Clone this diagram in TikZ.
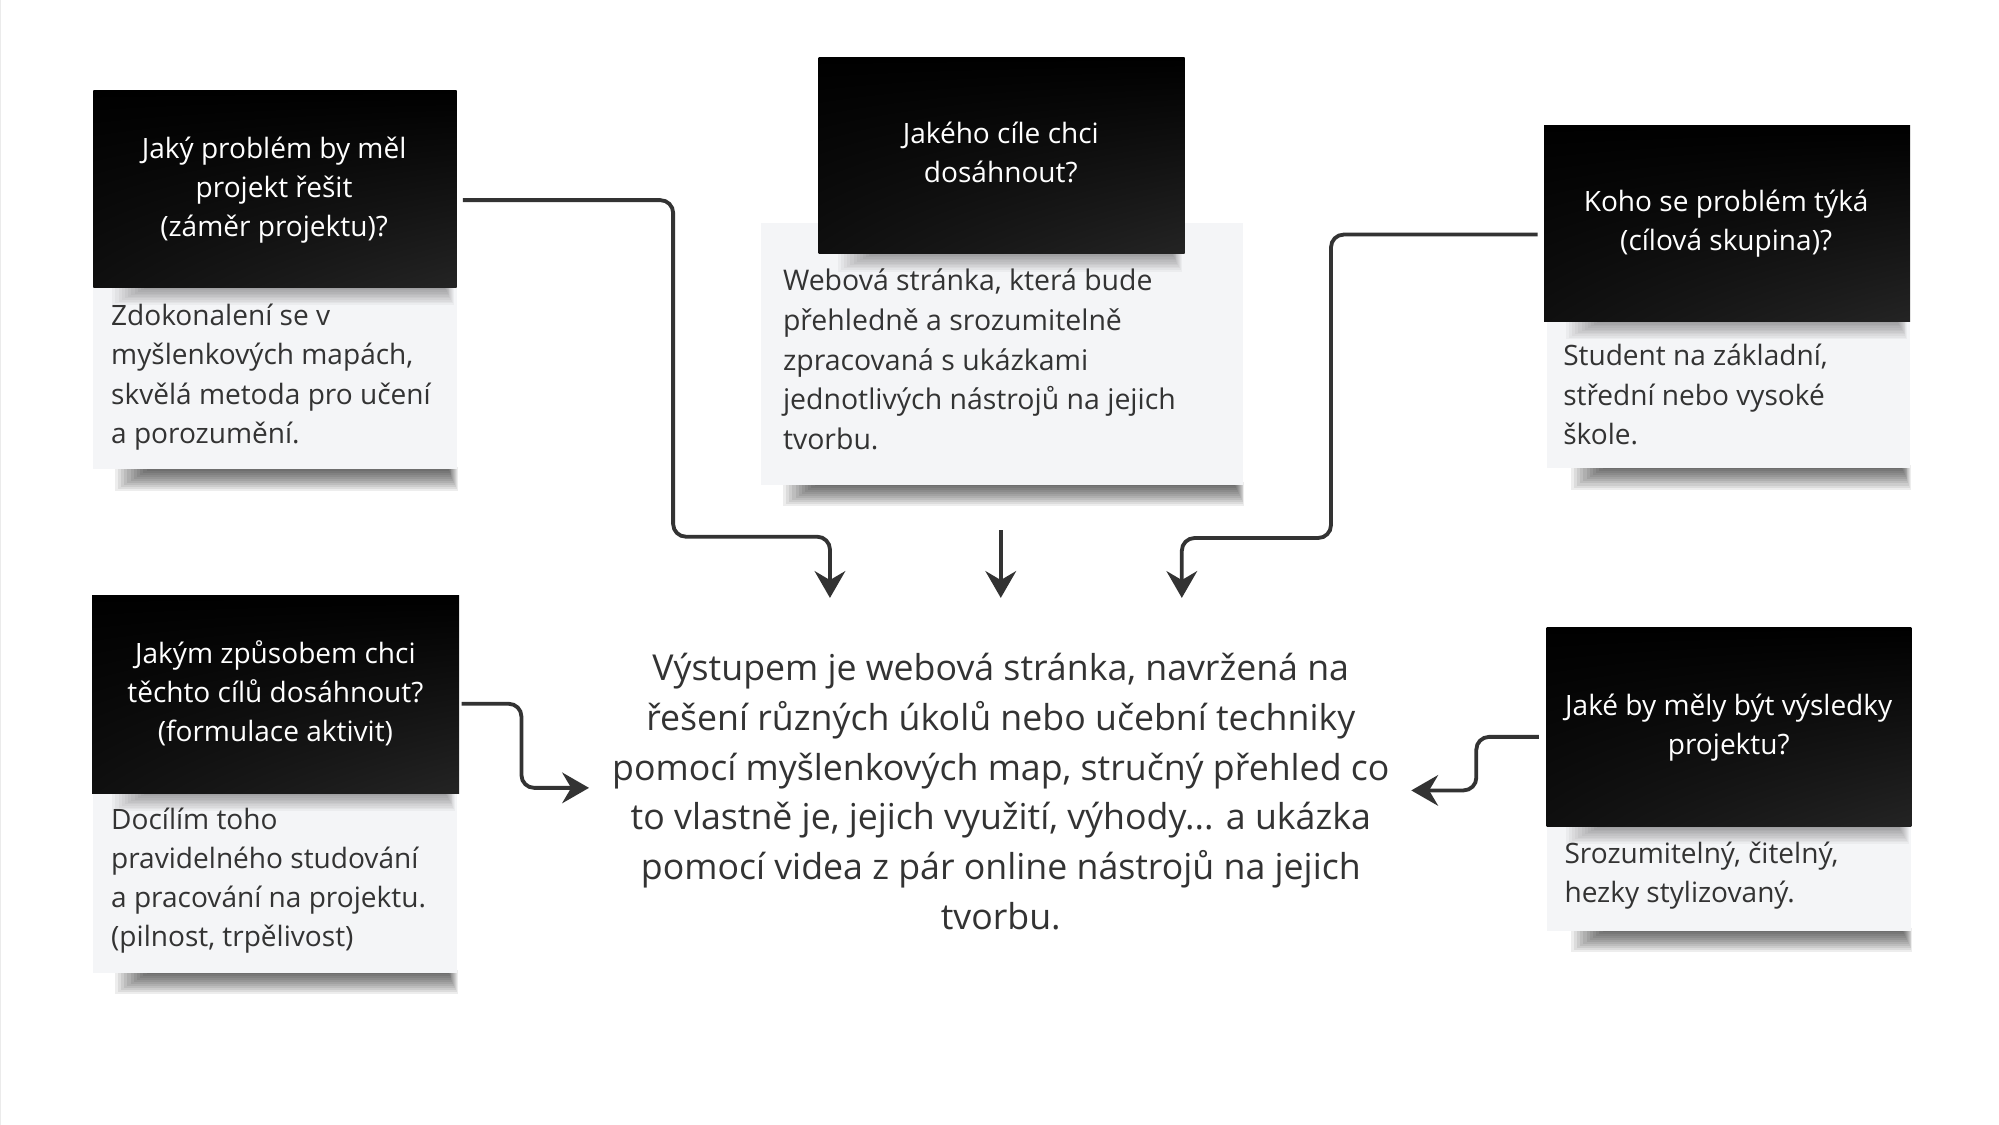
\documentclass[tikz,border=0pt]{standalone}
\usepackage{fontspec}
\setmainfont{Open Sans}
\usetikzlibrary{arrows.meta,shadings}
\definecolor{ink}{HTML}{333333}
\definecolor{paper}{HTML}{F4F5F7}
\newcommand\bodyfnt{\fontsize{22}{30.7}\selectfont}
\newcommand\bigbodyfnt{\fontsize{22.3}{31.2}\selectfont}
\newcommand\midfnt{\fontsize{28}{39}\selectfont}
% soft shadow band: x1, x2, top y, height, layer opacity
\newcommand\shadeband[5]{%
  \foreach \k in {0,...,11}{\fill[black, opacity=#5] (#1+2.5*\k, #3) rectangle (#2-0.7*\k, #3+#4-#4*\k/12);}}
\begin{document}
\begin{tikzpicture}[x=1pt,y=-1pt,
  darkbox/.style={draw=none, inner sep=0, anchor=north west,
    upper left=black, upper right=black, lower left=black!94!white, lower right=black!86!white},
  lightbox/.style={fill=paper, draw=none, inner sep=0, anchor=north west},
  headtxt/.style={text=white, inner sep=0, anchor=base, font=\bodyfnt},
  bodytxt/.style={text=ink, inner sep=0, anchor=base west, font=\bodyfnt},
  link/.style={draw=ink, line width=3, rounded corners=10, -{Stealth[length=21, width=24, inset=7]}},
]
\useasboundingbox (0,0) rectangle (1568,882.4);
\fill[white] (0,0) rectangle (1568,882.4);
\draw[black!8, line width=1] (0.5,0) -- (0.5,882.4);

% card 1
\shadeband{90}{359}{366}{19}{0.07}
\node[lightbox, minimum width=285, minimum height=143] (l1) at (73,225) {};
\shadeband{88}{356}{224}{15}{0.035}
\node[darkbox, minimum width=285, minimum height=154] (h1) at (73,71) {};
\node[headtxt] (t1) at (215,124.5) {\parbox[t]{280pt}{\centering Jaký problém by měl\\ projekt řešit\\ (záměr projektu)?}};
\node[bodytxt] (d1) at (87,255.5) {\parbox[t]{270pt}{\raggedright Zdokonalení se v\\ myšlenkových mapách,\\ skvělá metoda pro učení\\ a porozumění.}};

% card 2
\shadeband{614}{976}{378}{19}{0.07}
\node[lightbox, minimum width=378, minimum height=205] (l2) at (597,175) {};
\shadeband{657}{927}{198}{15}{0.035}
\node[darkbox, minimum width=287, minimum height=154] (h2) at (642,45) {};
\node[headtxt] (t2) at (785,112.5) {\parbox[t]{280pt}{\centering Jakého cíle chci\\ dosáhnout?}};
\node[bodytxt, font=\bigbodyfnt] (d2) at (614,228) {\parbox[t]{350pt}{\raggedright Webová stránka, která bude\\ přehledně a srozumitelně\\ zpracovaná s ukázkami\\ jednotlivých nástrojů na jejich\\ tvorbu.}};

% card 3
\shadeband{1232}{1499}{365}{19}{0.07}
\node[lightbox, minimum width=285, minimum height=115] (l3) at (1213,252) {};
\shadeband{1228}{1496}{251}{15}{0.035}
\node[darkbox, minimum width=287, minimum height=154] (h3) at (1211,98) {};
\node[headtxt] (t3) at (1354,166) {\parbox[t]{280pt}{\centering Koho se problém týká\\ (cílová skupina)?}};
\node[bodytxt] (d3) at (1226,287) {\parbox[t]{270pt}{\raggedright Student na základní,\\ střední nebo vysoké\\ škole.}};

% card 4
\shadeband{90}{359}{761}{19}{0.07}
\node[lightbox, minimum width=285, minimum height=141] (l4) at (73,622) {};
\shadeband{88}{357}{621}{15}{0.035}
\node[darkbox, minimum width=288, minimum height=155] (h4) at (72,467) {};
\node[headtxt] (t4) at (216,520.5) {\parbox[t]{285pt}{\centering Jakým způsobem chci\\ těchto cílů dosáhnout?\\ (formulace aktivit)}};
\node[bodytxt] (d4) at (87,650.5) {\parbox[t]{270pt}{\raggedright Docílím toho\\ pravidelného studování\\ a pracování na projektu.\\ (pilnost, trpělivost)}};

% card 5
\shadeband{1232}{1500}{728}{19}{0.07}
\node[lightbox, minimum width=286, minimum height=82] (l5) at (1213,648) {};
\shadeband{1228}{1497}{647}{15}{0.035}
\node[darkbox, minimum width=286, minimum height=156] (h5) at (1213,492) {};
\node[headtxt] (t5) at (1356,561.5) {\parbox[t]{285pt}{\centering Jaké by měly být výsledky\\ projektu?}};
\node[bodytxt] (d5) at (1227,677) {\parbox[t]{270pt}{\raggedright Srozumitelný, čitelný,\\ hezky stylizovaný.}};

% center text
\node[text=ink, inner sep=0, anchor=base, font=\midfnt] (out) at (785,534) {\parbox[t]{700pt}{\centering Výstupem je webová stránka, navržená na\\ řešení různých úkolů nebo učební techniky\\ pomocí myšlenkových map, stručný přehled co\\ to vlastně je, jejich využití, výhody... a ukázka\\ pomocí videa z pár online nástrojů na jejich\\ tvorbu.}};

% connector ends
\coordinate (e1) at (651,469);
\coordinate (e2) at (785,469);
\coordinate (e3) at (927,469);
\coordinate (e4) at (462,618);
\coordinate (e5) at (1107,620);
\coordinate (s1) at (363,157);
\coordinate (s2) at (785,416);
\coordinate (s3) at (1206,184);
\coordinate (s4) at (362,552);
\coordinate (s5) at (1207,578);

\draw[link] (s1) -- (528,157) -- (528,421) -- (651,421) -- (e1);
\draw[link] (s2) -- (e2);
\draw[link] (s3) -- (1044,184) -- (1044,422) -- (927,422) -- (e3);
\draw[link] (s4) -- (409,552) -- (409,618) -- (e4);
\draw[link] (s5) -- (1158,578) -- (1158,620) -- (e5);
\end{tikzpicture}
\end{document}
